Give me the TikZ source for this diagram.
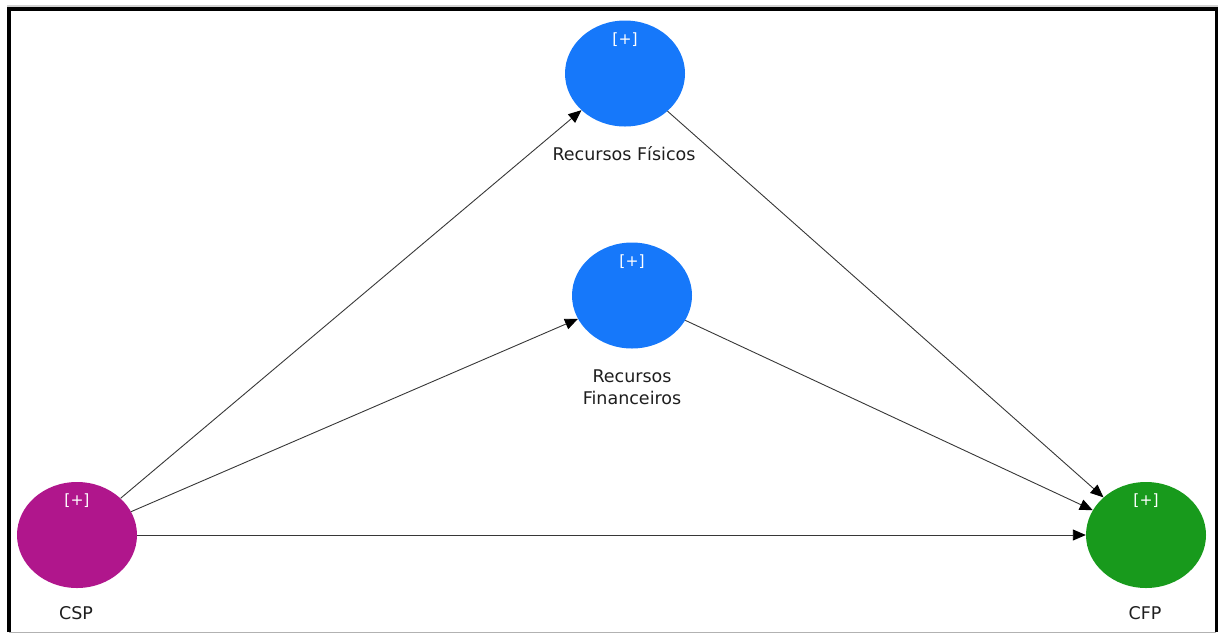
\documentclass[tikz,border=0pt]{standalone}
\usepackage{fontspec}
\setmainfont{DejaVu Sans}
\usetikzlibrary{shapes.geometric,arrows.meta}
\definecolor{cspcol}{RGB}{176,22,140}
\definecolor{rescol}{RGB}{22,120,250}
\definecolor{cfpcol}{RGB}{24,154,28}
\definecolor{linecol}{RGB}{55,55,55}
\definecolor{txtcol}{RGB}{30,30,30}
\tikzset{
  construct/.style={ellipse, minimum width=120pt, minimum height=106pt, inner sep=0pt, draw=none},
  plus/.style={text=white, font=\fontsize{15.5}{15.5}\selectfont},
  lbl/.style={text=txtcol, font=\fontsize{17.5}{22}\selectfont, align=center},
  path/.style={draw=linecol, line width=0.9pt, -{Triangle[length=13pt,width=11pt,color=black,fill=black]}},
}
\begin{document}
\begin{tikzpicture}[x=1pt,y=-1pt]
\useasboundingbox (0,0) rectangle (1218,633);
% frame
\fill[gray!35] (7,4.5) rectangle (1218,6.5);
\draw[gray!60, line width=1pt] (9,632) -- (1216,632);
\draw[black, line width=3.6pt] (9.2,632) -- (9.2,9.2) -- (1216.6,9.2) -- (1216.6,632);
% constructs
\node[construct, fill=cspcol] (csp) at (77,535) {};
\node[construct, fill=cfpcol] (cfp) at (1146,535) {};
\node[construct, fill=rescol] (rf)  at (625,73.5) {};
\node[construct, fill=rescol] (rfin) at (632,295.5) {};
% expand markers
\node[plus] (pcsp) at (77,501) {[+]};
\node[plus] (pcfp) at (1146,501) {[+]};
\node[plus] (prf) at (625,40) {[+]};
\node[plus] (prfin) at (632,262) {[+]};
% labels
\node[lbl] (lcsp) at (76,613) {CSP};
\node[lbl] (lcfp) at (1145,613) {CFP};
\node[lbl] (lrf) at (624,154) {Recursos Físicos};
\node[lbl] (lrfin) at (632,387) {Recursos\\Financeiros};
% paths
\draw[path] (csp) -- (rf);
\draw[path] (csp) -- (rfin);
\draw[path] (csp) -- (cfp);
\draw[path] (rf) -- (cfp);
\draw[path] (rfin) -- (cfp);
\end{tikzpicture}
\end{document}
